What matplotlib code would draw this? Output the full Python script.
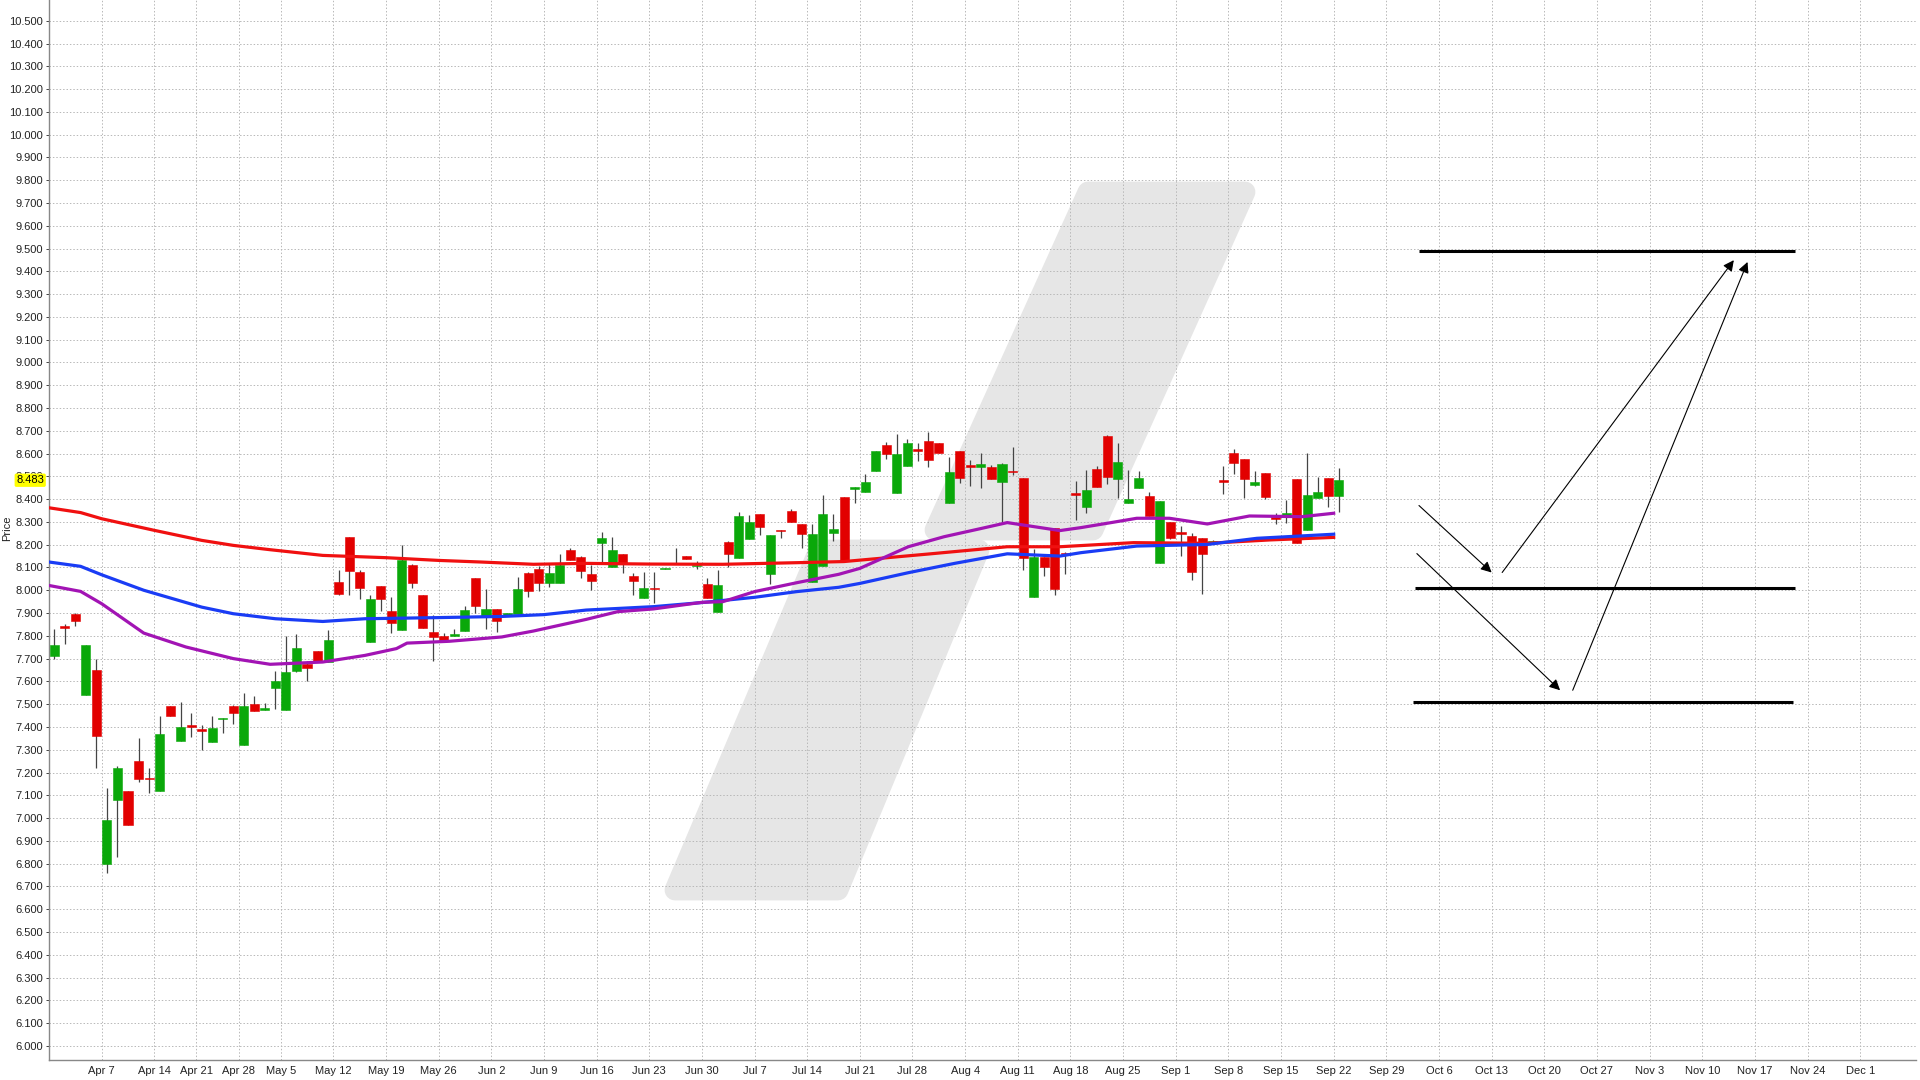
import numpy as np
import pandas as pd
import matplotlib
matplotlib.use('Agg')
import matplotlib.pyplot as plt
from matplotlib.patches import Polygon
from matplotlib.transforms import blended_transform_factory

plt.rcParams['font.family'] = ['Liberation Sans', 'DejaVu Sans']

# daily candles, Mar 31 .. Sep 22 (trading days only)
opens = [7.71, 7.845, 7.895, 7.54, 7.65, 6.80, 7.08, 7.12, 7.25, 7.177,
         7.12, 7.49, 7.34, 7.407, 7.39, 7.335, 7.434, 7.49, 7.32, 7.50,
         7.476, 7.57, 7.476, 7.645, 7.675, 7.735, 7.685, 8.038, 8.234, 8.08,
         7.773, 8.02, 7.91, 7.827, 8.11, 7.978, 7.817, 7.798, 7.80, 7.82,
         8.053, 7.883, 7.916, 7.893, 7.897, 8.076, 8.092, 8.03, 8.03, 8.177,
         8.148, 8.07, 8.206, 8.101, 8.158, 8.063, 7.965, 8.012, 8.092, 8.116,
         8.15, 8.105, 8.027, 7.906, 8.213, 8.143, 8.223, 8.335, 8.07, 8.265,
         8.348, 8.29, 8.035, 8.107, 8.253, 8.408, 8.443, 8.433, 8.524, 8.638,
         8.428, 8.547, 8.619, 8.655, 8.645, 8.384, 8.613, 8.55, 8.54, 8.542,
         8.474, 8.525, 8.494, 7.972, 8.147, 8.272, 8.165, 8.425, 8.367, 8.532,
         8.677, 8.489, 8.381, 8.45, 8.415, 8.121, 8.30, 8.257, 8.238, 8.228,
         8.213, 8.484, 8.601, 8.574, 8.462, 8.513, 8.32, 8.332, 8.488, 8.265,
         8.403, 8.494, 8.415]
highs = [7.83, 7.85, 7.90, 7.76, 7.70, 7.13, 7.23, 7.12, 7.35, 7.22,
         7.45, 7.49, 7.51, 7.46, 7.41, 7.45, 7.44, 7.495, 7.55, 7.535,
         7.505, 7.645, 7.80, 7.806, 7.69, 7.735, 7.827, 8.09, 8.235, 8.09,
         7.978, 8.02, 7.97, 8.20, 8.117, 7.978, 7.89, 7.812, 7.83, 7.93,
         8.053, 8.007, 7.916, 7.90, 8.06, 8.08, 8.105, 8.114, 8.159, 8.186,
         8.15, 8.111, 8.257, 8.235, 8.16, 8.074, 8.079, 8.082, 8.098, 8.184,
         8.15, 8.13, 8.055, 8.09, 8.215, 8.345, 8.33, 8.335, 8.243, 8.266,
         8.355, 8.29, 8.29, 8.416, 8.335, 8.408, 8.452, 8.509, 8.613, 8.652,
         8.686, 8.663, 8.648, 8.695, 8.645, 8.586, 8.613, 8.572, 8.604, 8.55,
         8.56, 8.63, 8.494, 8.18, 8.147, 8.272, 8.17, 8.481, 8.528, 8.545,
         8.68, 8.645, 8.528, 8.523, 8.432, 8.393, 8.30, 8.282, 8.25, 8.23,
         8.22, 8.545, 8.62, 8.574, 8.525, 8.513, 8.338, 8.396, 8.49, 8.604,
         8.499, 8.494, 8.535]
lows = [7.70, 7.765, 7.845, 7.54, 7.22, 6.76, 6.83, 6.97, 7.16, 7.11,
        7.12, 7.45, 7.34, 7.355, 7.30, 7.335, 7.375, 7.415, 7.32, 7.47,
        7.475, 7.48, 7.476, 7.64, 7.60, 7.688, 7.685, 7.978, 7.98, 7.96,
        7.773, 7.91, 7.812, 7.827, 8.01, 7.836, 7.688, 7.775, 7.80, 7.82,
        7.90, 7.83, 7.817, 7.89, 7.897, 7.97, 7.997, 8.013, 8.03, 8.133,
        8.053, 8.0, 8.121, 8.101, 8.075, 7.98, 7.965, 7.943, 8.092, 8.116,
        8.136, 8.092, 7.965, 7.906, 8.104, 8.143, 8.223, 8.243, 8.026, 8.231,
        8.30, 8.184, 8.035, 8.107, 8.216, 8.131, 8.382, 8.433, 8.524, 8.575,
        8.428, 8.547, 8.567, 8.543, 8.601, 8.384, 8.472, 8.457, 8.45, 8.488,
        8.294, 8.506, 8.089, 7.972, 8.063, 7.98, 8.071, 8.308, 8.34, 8.455,
        8.465, 8.405, 8.381, 8.45, 8.327, 8.121, 8.225, 8.15, 8.047, 7.985,
        8.21, 8.422, 8.51, 8.406, 8.458, 8.40, 8.29, 8.294, 8.206, 8.265,
        8.403, 8.367, 8.345]
closes = [7.76, 7.835, 7.865, 7.76, 7.36, 6.99, 7.22, 6.97, 7.17, 7.172,
          7.37, 7.45, 7.40, 7.401, 7.383, 7.395, 7.439, 7.46, 7.49, 7.47,
          7.482, 7.60, 7.642, 7.748, 7.657, 7.69, 7.783, 7.985, 8.085, 8.01,
          7.96, 7.963, 7.856, 8.131, 8.03, 7.836, 7.795, 7.777, 7.81, 7.912,
          7.931, 7.916, 7.865, 7.897, 8.007, 7.997, 8.03, 8.074, 8.111, 8.133,
          8.086, 8.04, 8.228, 8.177, 8.118, 8.042, 8.009, 8.006, 8.098, 8.12,
          8.136, 8.111, 7.965, 8.023, 8.158, 8.327, 8.298, 8.276, 8.243, 8.258,
          8.30, 8.247, 8.247, 8.335, 8.27, 8.131, 8.452, 8.474, 8.613, 8.597,
          8.597, 8.645, 8.613, 8.572, 8.601, 8.519, 8.494, 8.54, 8.553, 8.488,
          8.553, 8.519, 8.143, 8.147, 8.104, 8.004, 8.159, 8.418, 8.44, 8.455,
          8.499, 8.565, 8.40, 8.494, 8.327, 8.393, 8.231, 8.247, 8.081, 8.158,
          8.216, 8.477, 8.56, 8.488, 8.474, 8.411, 8.313, 8.338, 8.206, 8.418,
          8.433, 8.415, 8.483]
last_price = 8.483

# moving averages, sampled at trading-day positions
ma_red_x = [0, 3, 5, 10, 14.5, 17.5, 21, 26, 32, 37, 41, 46, 51, 57, 64, 71,
            75.5, 83.5, 91, 96, 103, 110, 116, 122]
ma_red = [8.362, 8.341, 8.314, 8.263, 8.219, 8.197, 8.178, 8.153, 8.143, 8.131,
          8.124, 8.114, 8.118, 8.115, 8.114, 8.121, 8.126, 8.159, 8.191, 8.191,
          8.209, 8.206, 8.221, 8.232]
ma_blue_x = [0, 3, 5, 9, 14.5, 17.5, 21.5, 26, 30, 37, 43, 47, 51, 57.4, 62, 67,
             71, 75, 77, 81.6, 86, 91, 96, 98, 103.3, 110, 114.7, 122]
ma_blue = [8.124, 8.105, 8.068, 8.0, 7.926, 7.897, 7.875, 7.863, 7.875, 7.88,
           7.885, 7.893, 7.913, 7.928, 7.946, 7.969, 7.994, 8.013, 8.03, 8.077,
           8.118, 8.16, 8.15, 8.165, 8.194, 8.201, 8.228, 8.246]
ma_purple_x = [0, 3, 5, 9, 13, 17.5, 21, 26, 30, 33, 34, 38, 43, 46, 51, 54,
               57.4, 62, 64, 67, 71, 75, 77, 81.6, 85, 88.6, 91, 96, 98, 101,
               103.3, 106.4, 110, 114, 119, 122]
ma_purple = [8.021, 7.995, 7.941, 7.812, 7.751, 7.70, 7.675, 7.685, 7.714, 7.744,
             7.768, 7.776, 7.795, 7.821, 7.872, 7.906, 7.918, 7.947, 7.95, 7.994,
             8.033, 8.07, 8.096, 8.191, 8.235, 8.272, 8.297, 8.262, 8.275, 8.298,
             8.316, 8.316, 8.291, 8.326, 8.323, 8.338]

# drawn levels and arrows on the right (trading-day position, price)
level_prices = [9.49, 8.011, 7.508]
level_start = [130.1, 129.7, 129.5]
level_end = [165.8, 165.8, 165.6]
arrow_from = [(130.1, 8.372), (129.9, 8.161), (138.0, 8.078), (144.7, 7.561)]
arrow_to = [(137.0, 8.078), (143.5, 7.561), (160.0, 9.449), (161.3, 9.441)]

holidays = ['2025-04-18', '2025-04-21', '2025-05-01']
days = pd.bdate_range('2025-03-31', '2025-12-31')
days = days[~days.isin(pd.to_datetime(holidays))]
week_starts = pd.date_range('2025-04-07', '2025-12-01', freq='W-MON')
tick_pos = days.searchsorted(week_starts)
tick_labels = [f"{d:%b} {d.day}" for d in week_starts]

W, H = 1920, 1080
fig = plt.figure(figsize=(19.2, 10.8), dpi=100)
fig.patch.set_facecolor('white')
ax = fig.add_axes([49 / W, 20 / H, (1916 - 49) / W, 1060 / H])

# watermark logo (pixel coordinates, y measured from top)
def to_fig(pts):
    return [(x / W, 1 - y / H) for x, y in pts]

for shape in ([(1088, 192), (1245, 192), (1093, 530), (935, 530)],
              [(819, 550), (979, 550), (838, 890), (675, 890)]):
    ax.add_patch(Polygon(to_fig(shape), closed=True, transform=fig.transFigure,
                         facecolor='#e6e6e6', edgecolor='#e6e6e6', lw=15,
                         joinstyle='round', zorder=0.1))

o = np.array(opens)
h = np.array(highs)
l = np.array(lows)
c = np.array(closes)
x = np.arange(len(c)) + 0.5
up = c >= o
colors = np.where(up, '#0aa80a', '#e20000')
bottoms = np.minimum(o, c)
heights = np.maximum(np.abs(c - o), 0.005)

ax.vlines(x, l, h, color='#444444', lw=0.9, zorder=2)
ax.bar(x, heights, bottom=bottoms, width=0.86, color=colors,
       edgecolor=colors, lw=0.4, zorder=3)

ax.plot(ma_red_x, ma_red, color='#f01010', lw=2.3, zorder=4)
ax.plot(ma_blue_x, ma_blue, color='#1a3cf5', lw=2.3, zorder=4)
ax.plot(ma_purple_x, ma_purple, color='#a214b4', lw=2.3, zorder=4)

for p, x0, x1 in zip(level_prices, level_start, level_end):
    ax.hlines(p, x0, x1, color='black', lw=2.2, zorder=5)
for a, b in zip(arrow_from, arrow_to):
    ax.annotate('', xy=b, xytext=a, zorder=5,
                arrowprops=dict(arrowstyle='-|>', color='black', lw=0.8,
                                mutation_scale=16, shrinkA=0, shrinkB=0))

ax.set_xlim(0, 177.3)
ax.set_ylim(5.938, 10.591)
ax.set_yticks(np.arange(6.0, 10.51, 0.1))
ax.set_yticklabels([f"{v:.3f}" for v in np.arange(6.0, 10.51, 0.1)])
ax.set_xticks(tick_pos)
ax.set_xticklabels(tick_labels)
ax.tick_params(axis='both', labelsize=8, colors='#222222', length=2.5,
               width=0.6, pad=2)
ax.tick_params(axis='x', pad=4, length=0)
ax.grid(True, color='#b8b8b8', lw=0.7, ls=(0, (1.5, 2)))
ax.set_axisbelow(True)
for s in ['top', 'right']:
    ax.spines[s].set_visible(False)
for s in ['left', 'bottom']:
    ax.spines[s].set_color('#888888')
    ax.spines[s].set_linewidth(1.0)

# last price marker on the axis
trans = blended_transform_factory(ax.transAxes, ax.transData)
ax.text(-0.0026, last_price, f"{last_price:.3f}", transform=trans, ha='right',
        va='center', fontsize=8, color='black', zorder=10, clip_on=False,
        bbox=dict(boxstyle='round,pad=0.15', fc='#ffff00', ec='none'))

fig.text(0.0035, 1 - 528 / H, 'Price', rotation=90, ha='center', va='center',
         fontsize=8, color='#222222')

fig.savefig('out.png', dpi=100)
